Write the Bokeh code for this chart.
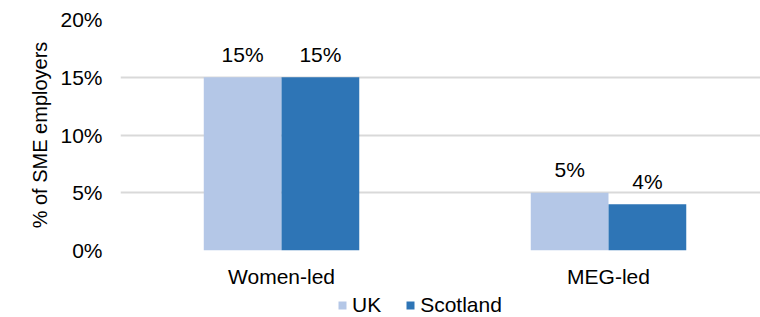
from bokeh.plotting import figure
from bokeh.layouts import column
from bokeh.models import (ColumnDataSource, Range1d, FixedTicker, PrintfTickFormatter,
                          Legend, LegendItem)
from bokeh.transform import dodge
from bokeh.embed import file_html
from bokeh.resources import INLINE
from bokeh.core.properties import value

categories = ["Women-led", "MEG-led"]
series = ["UK", "Scotland"]
uk = [15, 5]
scotland = [15, 4]
y_ticks = [0, 5, 10, 15, 20]
colors = ["#b4c7e7", "#2e75b6"]
y_title = "% of SME employers"

FONT = "Liberation Sans"
xs = list(range(len(categories)))
src = ColumnDataSource(dict(
    x=xs, uk=uk, scotland=scotland,
    uk_lbl=[f"{v}%" for v in uk],
    sc_lbl=[f"{v}%" for v in scotland],
))

p = figure(width=760, height=290,
           x_range=Range1d(-0.4924, 1.4648), y_range=Range1d(0, 20),
           output_backend="svg", toolbar_location=None,
           min_border_left=120, min_border_right=0,
           min_border_top=19, min_border_bottom=40)
p.outline_line_color = None
p.background_fill_color = "white"
p.border_fill_color = "white"

off = 0.1189
bw = 0.2377
p.vbar(x=dodge("x", -off, range=p.x_range), width=bw, top="uk", bottom=0,
       source=src, fill_color=colors[0], line_color=None)
p.vbar(x=dodge("x", off, range=p.x_range), width=bw, top="scotland", bottom=0,
       source=src, fill_color=colors[1], line_color=None)

p.text(x=dodge("x", -off, range=p.x_range), y="uk", text="uk_lbl", source=src,
       text_align="center", text_baseline="alphabetic", y_offset=-23,
       text_font=value(FONT), text_font_size="21px", text_color="#000000")
p.text(x=dodge("x", off, range=p.x_range), y="scotland", text="sc_lbl", source=src,
       text_align="center", text_baseline="alphabetic", y_offset=-23,
       text_font=value(FONT), text_font_size="21px", text_color="#000000")

# axes
p.xaxis.ticker = FixedTicker(ticks=xs)
p.xaxis.major_label_overrides = {i: c for i, c in enumerate(categories)}
p.yaxis.ticker = FixedTicker(ticks=y_ticks)
p.yaxis.formatter = PrintfTickFormatter(format="%d%%")
for ax in (p.xaxis[0], p.yaxis[0]):
    ax.axis_line_color = None
    ax.major_tick_line_color = None
    ax.minor_tick_line_color = None
    ax.major_tick_out = 0
    ax.major_tick_in = 0
    ax.major_label_text_font = FONT
    ax.major_label_text_font_size = "21px"
    ax.major_label_text_color = "#000000"
p.xaxis.major_label_standoff = 14
p.yaxis.major_label_standoff = 18
p.yaxis.axis_label = y_title
p.yaxis.axis_label_text_font = FONT
p.yaxis.axis_label_text_font_size = "20px"
p.yaxis.axis_label_text_font_style = "normal"
p.yaxis.axis_label_text_color = "#000000"
p.yaxis.axis_label_standoff = 6

p.xgrid.grid_line_color = None
p.ygrid.grid_line_color = "#d9d9d9"
p.ygrid.grid_line_width = 2

# legend strip below the chart (its frame is aligned with the chart's frame)
lg = figure(width=760, height=27, x_range=Range1d(0, 1), y_range=Range1d(0, 1),
            output_backend="svg", toolbar_location=None,
            x_axis_location=None, y_axis_location=None,
            min_border_left=0, min_border_right=0, min_border_top=0, min_border_bottom=0)
lg.outline_line_color = None
lg.xgrid.visible = False
lg.ygrid.visible = False
lg.border_fill_color = "white"
# swatch-only renderers (zero height, nothing drawn) used for the legend keys
l_uk = lg.vbar(x=[0.5], top=[0], bottom=[0], width=0.0, fill_color=colors[0], line_color=None)
l_sc = lg.vbar(x=[0.5], top=[0], bottom=[0], width=0.0, fill_color=colors[1], line_color=None)
legend = Legend(items=[LegendItem(label=series[0], renderers=[l_uk]),
                       LegendItem(label=series[1], renderers=[l_sc])],
                orientation="horizontal", location=(217, 0),
                glyph_width=10, glyph_height=10, label_standoff=5, spacing=24,
                padding=0, margin=0, border_line_alpha=0, background_fill_alpha=0,
                label_text_font=FONT, label_text_font_size="21px",
                label_text_color="#000000")
lg.add_layout(legend, "center")

layout = column(p, lg, spacing=0)
open("out.html", "w").write(file_html(layout, INLINE))
